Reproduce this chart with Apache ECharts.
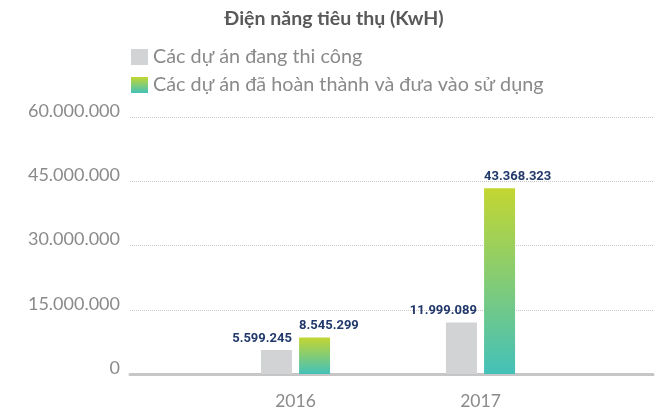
<!DOCTYPE html>
<html>
<head>
<meta charset="utf-8">
<script src="https://cdn.jsdelivr.net/npm/echarts@6/dist/echarts.min.js"></script>
<style>
  html, body { margin: 0; padding: 0; background: #fff; }
  #main { width: 668px; height: 415px; }
</style>
</head>
<body>
<div id="main"></div>
<script>
var years = ['2016', '2017'];
var dangThiCong = [5599245, 11999089];
var daHoanThanh = [8545299, 43368323];
var seriesNames = ['Các dự án đang thi công', 'Các dự án đã hoàn thành và đưa vào sử dụng'];
var yMax = 60000000;
var yStep = 15000000;

function fmt(v) {
    return String(v).replace(/\B(?=(\d{3})+(?!\d))/g, '.');
}

var myChart = echarts.init(document.querySelector('#main'));
var greenGrad = new echarts.graphic.LinearGradient(0, 0, 0, 1, [
    { offset: 0, color: '#c3d631' },
    { offset: 1, color: '#43c1b9' }
]);
var option = {
    animation: false,
    title: {
        text: 'Điện năng tiêu thụ (KwH)',
        left: 'center',
        top: 4,
        textStyle: { color: '#595959', fontSize: 19.5, fontWeight: 'bold', fontFamily: 'Lato' }
    },
    legend: {
        orient: 'vertical',
        left: 126,
        top: 42,
        itemWidth: 17,
        itemHeight: 16,
        itemGap: 8,
        icon: 'rect',
        textStyle: { color: '#8a8a8a', fontSize: 19.8, fontFamily: 'Lato' },
        data: seriesNames
    },
    grid: [
        { left: 130, right: 15, top: 117, bottom: 41 },
        { left: 203, width: 370, top: 117, bottom: 41 }
    ],
    xAxis: [
        {
            gridIndex: 0,
            type: 'category',
            data: [''],
            axisLine: { lineStyle: { color: '#c6c6c6', width: 3 } },
            axisTick: { show: false },
            axisLabel: { show: false }
        },
        {
            gridIndex: 1,
            type: 'category',
            data: years,
            axisLine: { show: false },
            axisTick: { show: false },
            axisLabel: { color: '#8a8a8a', fontSize: 17.5, fontFamily: 'Lato', margin: 18 }
        }
    ],
    yAxis: [
        {
            gridIndex: 0,
            type: 'value',
            min: 0,
            max: yMax,
            interval: yStep,
            axisLine: { show: false },
            axisTick: { show: false },
            splitLine: { lineStyle: { color: '#c8c8c8', type: 'dotted', width: 1 } },
            axisLabel: {
                color: '#8a8a8a',
                fontSize: 18,
                fontFamily: 'Lato',
                margin: 10,
                verticalAlign: 'bottom',
                lineHeight: 12,
                formatter: function (v) { return fmt(v); }
            }
        },
        {
            gridIndex: 1,
            type: 'value',
            min: 0,
            max: yMax,
            interval: yStep,
            show: false
        }
    ],
    series: [
        {
            name: seriesNames[0],
            type: 'bar',
            xAxisIndex: 1,
            yAxisIndex: 1,
            barWidth: 31,
            barGap: '23%',
            data: dangThiCong,
            itemStyle: { color: '#d2d3d5' },
            label: {
                show: true,
                position: 'top',
                align: 'right',
                offset: [15.5, 0],
                color: '#22396b',
                fontSize: 13,
                fontWeight: 'bold',
                fontFamily: 'Roboto',
                formatter: function (p) { return fmt(p.value); }
            }
        },
        {
            name: seriesNames[1],
            type: 'bar',
            xAxisIndex: 1,
            yAxisIndex: 1,
            barWidth: 31,
            barGap: '23%',
            data: daHoanThanh,
            itemStyle: { color: greenGrad },
            label: {
                show: true,
                position: 'top',
                align: 'left',
                offset: [-15.5, 0],
                color: '#22396b',
                fontSize: 13,
                fontWeight: 'bold',
                fontFamily: 'Roboto',
                formatter: function (p) { return fmt(p.value); }
            }
        }
    ]
};
myChart.setOption(option, true);
</script>
</body>
</html>
